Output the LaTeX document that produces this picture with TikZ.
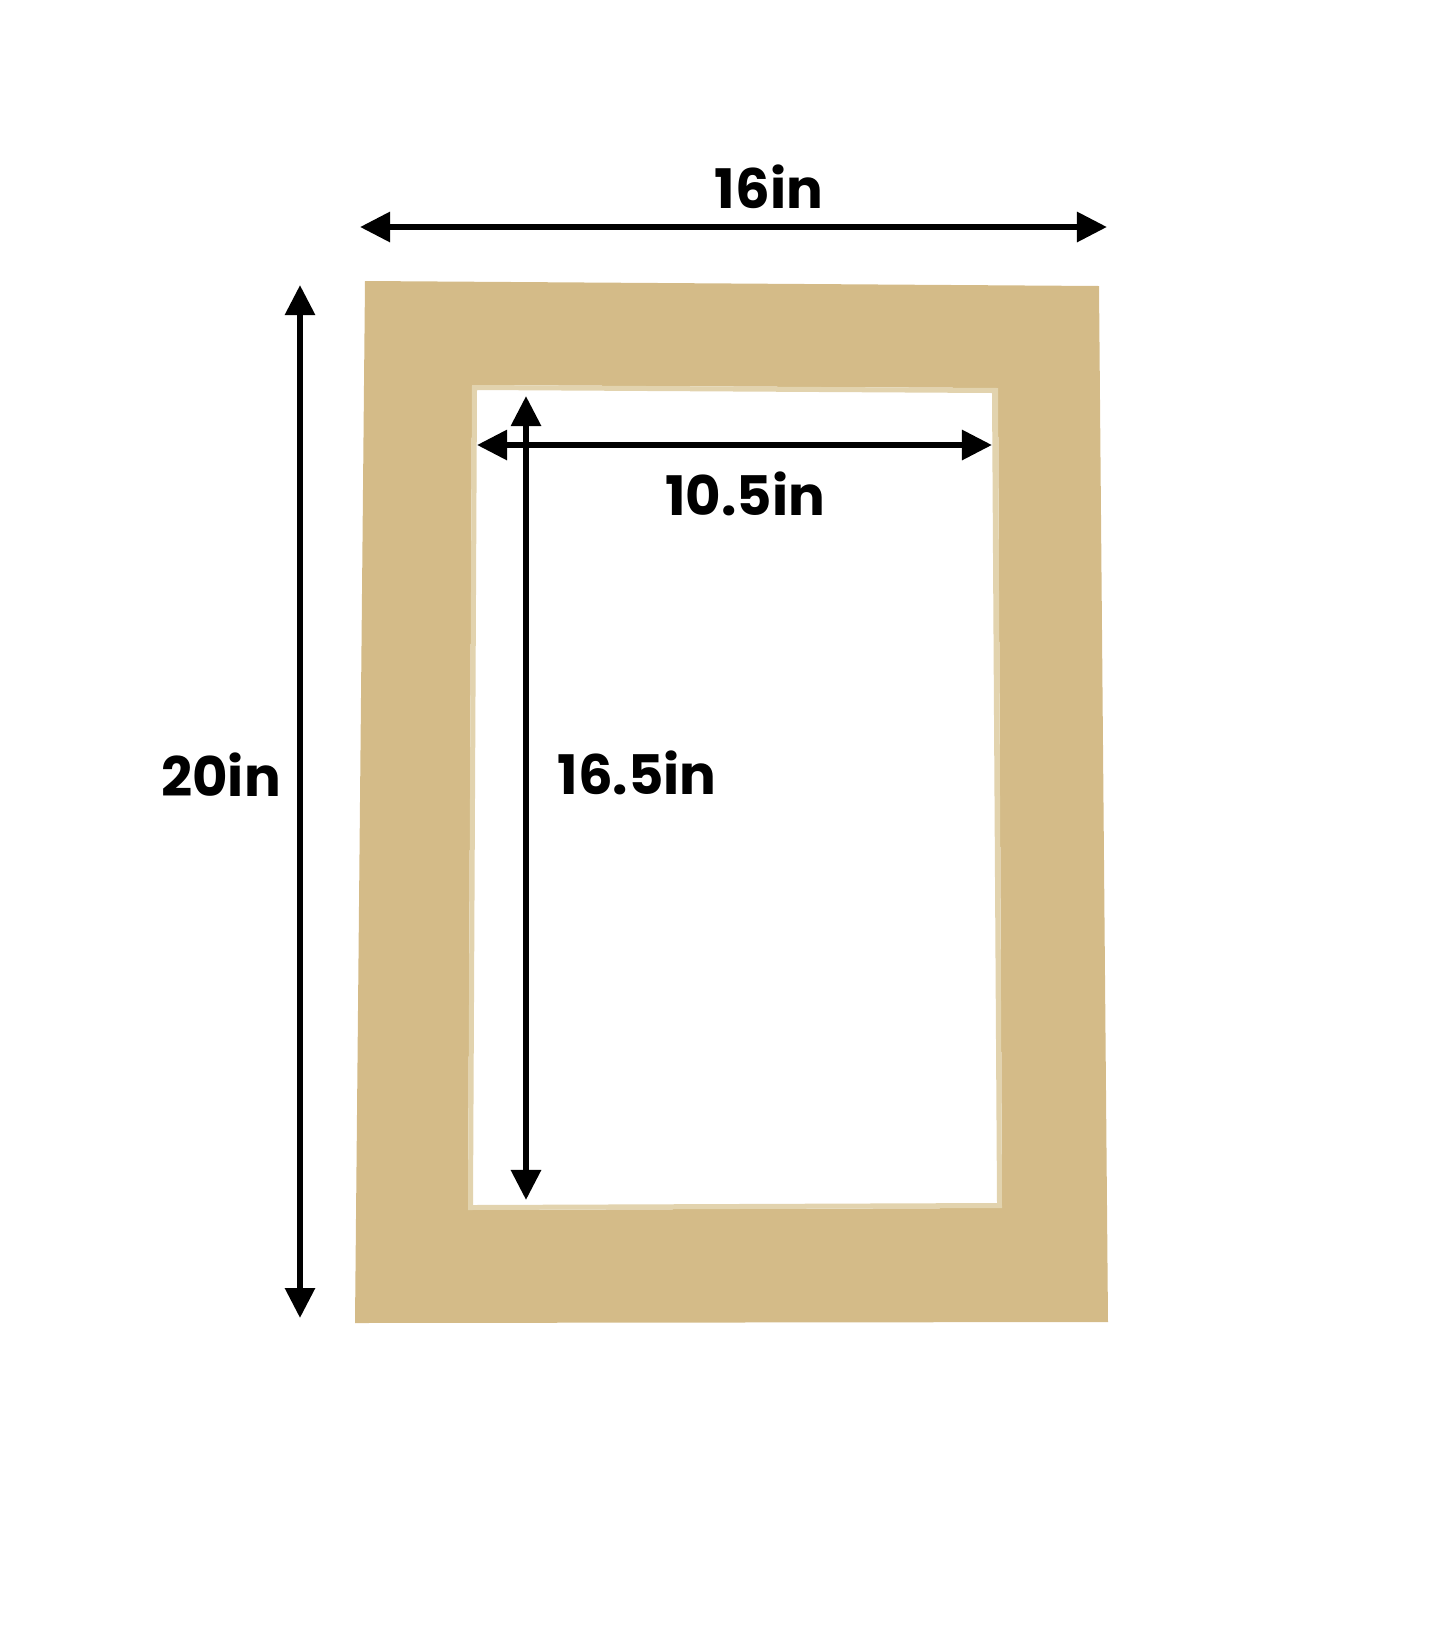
\documentclass[tikz,border=0pt]{standalone}
\usepackage{fontspec}
\setmainfont{Poppins}
\usetikzlibrary{arrows.meta}
\definecolor{linen}{RGB}{212,187,136}
\definecolor{bevel}{RGB}{226,211,174}
\tikzset{
  dimarrow/.style={line width=0.06cm,
    {Triangle[length=0.3cm,width=0.29cm]}-{Triangle[length=0.3cm,width=0.29cm]}},
  dimlabel/.style={font=\fontsize{15.5}{18}\selectfont\bfseries, inner sep=0pt, anchor=base}
}
\begin{document}
\begin{tikzpicture}[x=0.01cm,y=-0.01cm]
\useasboundingbox (0,0) rectangle (1445,1645);
\coordinate (outerTL) at (365,281);
\coordinate (outerTR) at (1099,286);
\coordinate (outerBR) at (1108,1322);
\coordinate (outerBL) at (355,1323);
\coordinate (bevelTL) at (472,385);
\coordinate (bevelTR) at (998,388);
\coordinate (bevelBR) at (1002,1208);
\coordinate (bevelBL) at (468,1210);
\coordinate (openTL) at (477,390);
\coordinate (openTR) at (992,393);
\coordinate (openBR) at (997,1203);
\coordinate (openBL) at (473,1205);
\fill[linen, even odd rule] (outerTL) -- (outerTR) -- (outerBR) -- (outerBL) -- cycle
  (bevelTL) -- (bevelTR) -- (bevelBR) -- (bevelBL) -- cycle;
\fill[bevel, even odd rule] (bevelTL) -- (bevelTR) -- (bevelBR) -- (bevelBL) -- cycle
  (openTL) -- (openTR) -- (openBR) -- (openBL) -- cycle;
\coordinate (topL) at (360,227);
\coordinate (topR) at (1107,227);
\coordinate (sideT) at (300,285);
\coordinate (sideB) at (300,1318);
\coordinate (openL) at (477,445);
\coordinate (openR) at (992,445);
\coordinate (openT) at (526,396);
\coordinate (openB) at (526,1200);
\draw[dimarrow] (topL) -- (topR);
\draw[dimarrow] (sideT) -- (sideB);
\draw[dimarrow] (openL) -- (openR);
\draw[dimarrow] (openT) -- (openB);
\node[dimlabel] (outerwidth) at (769,208) {16in};
\node[dimlabel] (outerheight) at (221,796) {20in};
\node[dimlabel] (openwidth) at (745,515) {10.5in};
\node[dimlabel] (openheight) at (637,794) {16.5in};
\end{tikzpicture}
\end{document}
